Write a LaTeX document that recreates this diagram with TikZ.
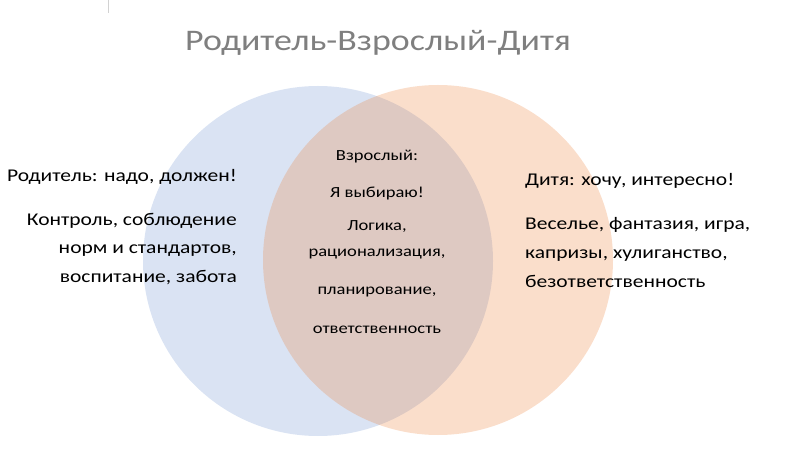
\documentclass[tikz,border=0pt]{standalone}
\usepackage{fontspec}
\setmainfont{Carlito}[FakeStretch=1.2]
\usetikzlibrary{positioning}

\definecolor{parentblue}{HTML}{DAE3F3}
\definecolor{childorange}{HTML}{ED7D31}
\definecolor{titlegray}{HTML}{7F7F7F}

\begin{document}
\begin{tikzpicture}[x=1bp, y=-1bp,
  role/.style={font=\fontsize{18}{22}\selectfont, inner sep=0pt},
  adult/.style={font=\fontsize{15.5}{18}\selectfont, inner sep=0pt, anchor=base}]

\useasboundingbox (0,0) rectangle (790,466);
\draw[gray!35] (108.5,0) -- (108.5,13);

% Circles
\fill[parentblue] (318,261) circle (175);
\fill[childorange, fill opacity=0.25] (438,260) circle (175);

% Title
\node[font=\fontsize{30}{32}\selectfont, text=titlegray, anchor=base] (title) at (378,51) {Родитель-Взрослый-Дитя};

% Parent
\node[role, anchor=base east] (parent) at (237,182) {Родитель: надо, должен!};
\node[role, below=44bp of parent.base east, anchor=base east] (control) {Контроль, соблюдение};
\node[role, below=28bp of control.base east, anchor=base east] (norms) {норм и стандартов,};
\node[role, below=28bp of norms.base east, anchor=base east] (care) {воспитание, забота};

% Child
\node[role, anchor=base west] (child) at (525,186) {Дитя: хочу, интересно!};
\node[role, below=44bp of child.base west, anchor=base west] (fun) {Веселье, фантазия, игра,};
\node[role, below=29bp of fun.base west, anchor=base west] (whims) {капризы, хулиганство,};
\node[role, below=28bp of whims.base west, anchor=base west] (carefree) {безответственность};

% Adult
\node[adult] (adult) at (377,161) {Взрослый:};
\node[adult, below=37bp of adult.base, anchor=base] (choice) {Я выбираю!};
\node[adult, below=33bp of choice.base, anchor=base] (logic) {Логика,};
\node[adult, below=26bp of logic.base, anchor=base] (reason) {рационализация,};
\node[adult, below=37bp of reason.base, anchor=base] (planning) {планирование,};
\node[adult, below=39bp of planning.base, anchor=base] (duty) {ответственность};

\end{tikzpicture}
\end{document}
